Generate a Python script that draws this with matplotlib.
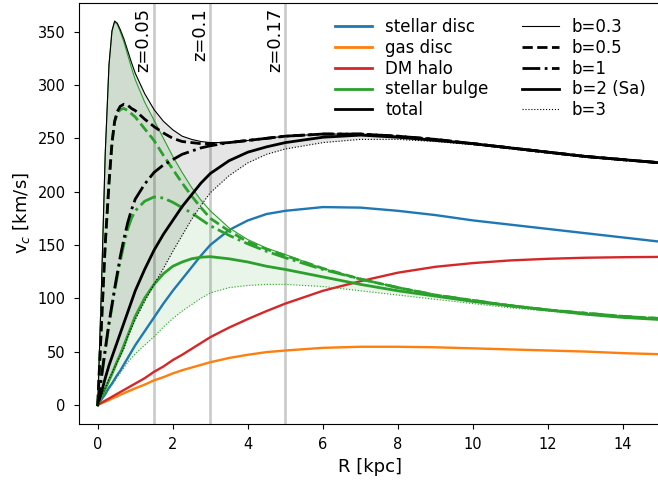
import matplotlib as mpl
import matplotlib.pyplot as plt
from matplotlib.lines import Line2D

mpl.use('Agg')

# raio [kpc]
R = [0, 0.1, 0.2, 0.3, 0.38, 0.45, 0.52, 0.6, 0.7, 0.8, 0.9, 1.0, 1.25, 1.5, 1.75, 2.0, 2.25, 2.5, 2.75,
     3.0, 3.5, 4.0, 4.5, 5.0, 6.0, 7.0, 8.0, 9.0, 10, 11, 12, 13, 14, 15]

disco = [0, 5, 10, 16, 20, 24, 28, 32, 38, 44, 50, 56, 69, 82, 95, 107, 118, 129, 140,
         150, 164, 173, 179, 182, 185.5, 185, 182, 178, 173, 169, 165, 161, 157, 153]
gas = [0, 1.5, 3, 4.5, 6, 7, 8, 9.5, 11, 12.5, 14, 15.5, 19, 23, 26, 29.5, 32.5, 35, 37.5,
       40, 44, 47, 49.5, 51, 53.5, 54.5, 54.5, 54, 53, 52, 51, 50, 48.5, 47.5]
halo = [0, 2, 4, 6, 7.6, 9, 10.4, 12, 14, 16, 18, 20, 25, 31, 36, 42, 47, 52.5, 58,
        63.5, 72.5, 80.5, 88, 95, 107, 116, 124, 129.5, 133, 135.5, 137, 138, 138.5, 138.8]

# bojo estelar para cada b
bojo_03 = [0, 110, 235, 318, 350, 359, 357, 350, 340, 328, 316, 305, 284, 267, 250, 233, 218, 204, 192,
           182, 166, 155, 147, 141, 128, 118, 110, 103, 98, 93, 89, 86, 83, 81]
bojo_05 = [0, 75, 150, 207, 245, 265, 273, 277, 278, 276, 273, 270, 259, 248, 234, 221, 208, 196, 185,
           175, 163, 153, 146, 140, 128, 118, 110, 103, 98, 93, 89, 86, 83, 81]
bojo_1 = [0, 25, 50, 75, 92, 107, 120, 135, 151, 165, 175, 182, 191, 195, 194, 190, 185, 180, 174,
          168, 159, 151, 144, 138, 127, 118, 110, 103, 98, 93, 89, 86, 83, 81]
bojo_2 = [0, 8, 15, 23, 29, 35, 41, 47, 56, 65, 74, 83, 100, 113, 123, 130, 134, 137, 138.5,
          139, 137, 134, 130, 127, 120, 113, 107, 102, 97, 93, 89, 85, 82, 80]
bojo_3 = [0, 5, 10, 15, 19, 22, 26, 30, 35, 40, 44, 48, 56, 64, 73, 81, 88, 94, 100,
          105, 110, 112, 113, 113, 111, 107, 103, 99, 95, 91, 88, 85, 82, 80]

# curva total para cada b
total_03 = [0, 111, 236, 319, 351, 360, 358, 352, 343, 332, 321, 311, 292, 277, 266, 258, 252, 249, 247,
            246, 246, 248, 250, 252, 254, 254, 252, 249, 245, 241, 237, 233, 230, 227]
total_05 = [0, 76, 151, 208, 246, 266, 275, 280, 282, 281, 278, 276, 268, 261, 255, 250, 247, 246, 245,
            245, 246, 248, 250, 252, 254, 254, 252, 249, 245, 241, 237, 233, 230, 227]
total_1 = [0, 27, 52, 77, 94, 109, 123, 139, 156, 171, 183, 193, 207, 218, 225, 230, 235, 238, 241,
           243, 246, 248, 250, 252, 254, 254, 252, 249, 245, 241, 237, 233, 230, 227]
total_2 = [0, 12, 25, 37, 45, 52, 59, 67, 77, 87, 97, 107, 127, 145, 160, 173, 186, 197, 208,
           217, 229, 237, 242, 246, 251, 253, 251, 248, 245, 241, 237, 233, 230, 227]
total_3 = [0, 8, 16, 24, 30, 35, 40, 46, 53, 64, 72, 80, 97, 113, 128, 144, 159, 174, 187,
           199, 215, 227, 235, 240, 246, 249, 249, 247, 244, 240, 236, 232, 229, 226.5]

z_R = [1.5, 3, 5]
z_nomes = ['z=0.05', 'z=0.1', 'z=0.17']

componentes = ['stellar disc', 'gas disc', 'DM halo', 'stellar bulge', 'total']
b_nomes = ['b=0.3', 'b=0.5', 'b=1', 'b=2 (Sa)', 'b=3']
estilos = [('-', 0.8), ('--', 2), ('-.', 2), ('-', 2), (':', 0.8)]

fig = plt.figure(figsize=(6.58, 4.83), dpi=100)
ax = fig.add_axes([0.12, 0.122, 0.884, 0.872])

for r, nome in zip(z_R, z_nomes):
    ax.axvline(r, color='grey', alpha=0.4, lw=2, zorder=1)
    ax.text(r - 0.04, 372, nome, rotation=90, ha='right', va='top', fontsize=13)

ax.fill_between(R, bojo_03, bojo_3, color='C2', alpha=0.1, lw=0)
ax.fill_between(R, total_03, total_3, color='k', alpha=0.1, lw=0)

ax.plot(R, disco, color='C0', lw=1.7)
ax.plot(R, gas, color='C1', lw=1.7)
ax.plot(R, halo, color='C3', lw=1.7)

bojos = [bojo_03, bojo_05, bojo_1, bojo_2, bojo_3]
totais = [total_03, total_05, total_1, total_2, total_3]
for bojo, total, (ls, lw) in zip(bojos, totais, estilos):
    ax.plot(R, bojo, color='C2', ls=ls, lw=lw)
    ax.plot(R, total, color='k', ls=ls, lw=lw)

handles = [Line2D([], [], color=c, lw=2) for c in ['C0', 'C1', 'C3', 'C2', 'k']]
handles += [Line2D([], [], color='k', ls=ls, lw=lw) for ls, lw in estilos]
ax.legend(handles, componentes + b_nomes, ncol=2, frameon=False, loc='upper right', fontsize=12,
          labelspacing=0.17, handlelength=2.2)

ax.set_xlim(-0.5, 15)
ax.set_ylim(-18, 377)
ax.set_xticks(range(0, 15, 2))
ax.tick_params(labelsize=10.5, pad=6)
ax.set_xlabel('R [kpc]', fontsize=13)
ax.set_ylabel('v$_c$ [km/s]', fontsize=13)

fig.savefig('out.png', dpi=100)
